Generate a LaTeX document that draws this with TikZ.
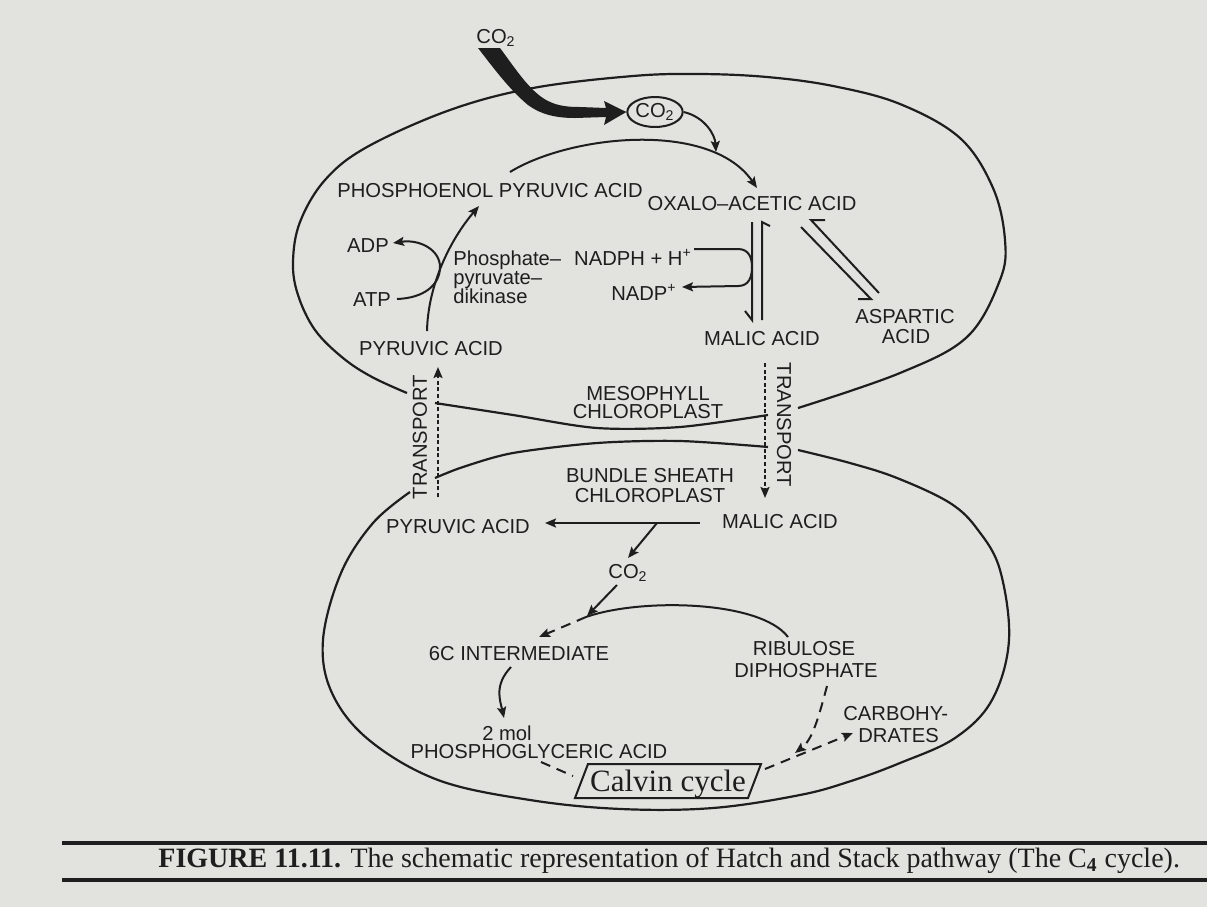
\documentclass[tikz,border=0pt]{standalone}
\usepackage{fontspec}
\setmainfont{Liberation Serif}
\setsansfont{Liberation Sans}
\usetikzlibrary{arrows.meta,shapes.geometric}
\definecolor{paper}{RGB}{226,226,222}
\definecolor{ink}{RGB}{30,30,30}
\begin{document}
\begin{tikzpicture}[x=0.5pt,y=-0.5pt,
  lbl/.style={font=\sffamily\fontsize{10.1}{10}\selectfont, inner sep=0pt, anchor=base, text=ink},
  lbll/.style={lbl, anchor=base west},
  ln/.style={draw=ink, line width=1pt},
  cell/.style={draw=ink, line width=1.1pt},
  arr/.style={ln, -{Stealth[length=5.5pt,width=4.5pt,inset=1pt]}},
  dsh/.style={dash pattern=on 5pt off 3.5pt},
  fdsh/.style={dash pattern=on 2pt off 1.3pt},
]
\fill[paper] (0,0) rectangle (1207,907);
\useasboundingbox (0,0) rectangle (1207,907);

% ---------- cell outlines ----------
\draw[cell] plot[smooth, tension=0.6] coordinates {(407,393) (372,377) (343,358) (315,330) (298,295) (293,262) (300,222) (325,180) (367,147) (450,110) (533,88) (633,76) (700,74) (767,77) (833,86) (900,104) (960,138) (993,188) (1005,240) (1000,280) (967,337) (900,373) (798,408)};
\draw[cell] plot[smooth] coordinates {(435,403) (513,415) (597,428) (680,427) (768,415)};
\draw[cell] plot[smooth] coordinates {(435,478) (463,467) (513,453) (597,443) (680,441) (768,447)};
\draw[cell] plot[smooth, tension=0.6] coordinates {(798,450) (850,463) (897,478) (950,503) (978,530) (1000,570) (1009,640) (992,700) (955,738) (900,763) (851,781) (800,795) (713,808) (621,809) (530,800) (438,780) (369,740) (332,693) (323,640) (341,573) (373,523) (410,492)};

% ---------- incoming CO2 ----------
\node[lbl] (co2a) at (496,43) {CO\textsubscript{2}};
\node[draw=ink, line width=1pt, ellipse, minimum width=27.5pt, minimum height=15pt, inner sep=0pt, font=\sffamily\fontsize{10.1}{10}\selectfont, text=ink] (co2b) at (655,112) {CO\textsubscript{2}};
\fill[ink] (478,48) -- (500,48) .. controls (515,68) and (530,92) .. (548,101) .. controls (558,106) and (568,107) .. (580,107) -- (606,108) -- (604,101) -- (co2b.west) -- (604,125) -- (606,117) -- (575,118) .. controls (555,118) and (540,114) .. (528,105) .. controls (510,90) and (495,70) .. (478,48) -- cycle;

% ---------- mesophyll labels ----------
\node[lbl] (pep) at (490,197) {PHOSPHOENOL PYRUVIC ACID};
\node[lbl] (oaa) at (752,210) {OXALO--ACETIC ACID};
\node[lbl] (adp) at (368,252) {ADP};
\node[lbl] (atp) at (372,306) {ATP};
\node[lbll] (enz1) at (453,265) {Phosphate--};
\node[lbll] (enz2) at (453,284) {pyruvate--};
\node[lbll] (enz3) at (453,303) {dikinase};
\node[lbl] (nadph) at (633,265) {NADPH + H\textsuperscript{+}};
\node[lbl] (nadp) at (644,300) {NADP\textsuperscript{+}};
\node[lbl] (pyr1) at (431,355) {PYRUVIC ACID};
\node[lbl] (mal1) at (762,345) {MALIC ACID};
\node[lbl] (asp1) at (905,323) {ASPARTIC};
\node[lbl] (asp2) at (906,343) {ACID};
\node[lbl] (meso1) at (648,400) {MESOPHYLL};
\node[lbl] (meso2) at (648,418) {CHLOROPLAST};
\node[lbl, anchor=center, rotate=90] (trL) at (420,437) {TRANSPORT};
\node[lbl, anchor=center, rotate=-90] (trR) at (784,425) {TRANSPORT};

% ---------- mesophyll connectors ----------
\coordinate (pepS) at (510,172);
\coordinate (oaaE) at (757,188);
\draw[arr] (pepS) .. controls (570,135) and (710,120) .. (oaaE);
\coordinate (oaaT) at (716,152);
\draw[arr] (co2b.east) .. controls (705,117) and (715,135) .. (oaaT);
\coordinate (pyrT) at (427,331);
\coordinate (pepB) at (479,206);
\draw[arr] (pyrT) .. controls (428,285) and (450,240) .. (pepB);
\coordinate (atpE) at (397,299);
\coordinate (adpE) at (393,243);
\draw[arr] (atpE) .. controls (424,298) and (440,285) .. (440,267) .. controls (440,250) and (420,239) .. (adpE);
\coordinate (nadphE) at (694,249);
\coordinate (nadpE) at (682,287);
\draw[arr] (nadphE) -- (738,249) .. controls (749,249) and (752,258) .. (752,267) .. controls (752,277) and (749,286) .. (738,286) -- (nadpE);
% equilibrium harpoons
\draw[ln] (752,222) -- (752,320) -- (745,311);
\draw[ln] (762,320) -- (762,222) -- (770,226);
\draw[ln] (801,227) -- (871,299) -- (858,299);
\draw[ln] (879,293) -- (811,220) -- (825,220);
% transport
\coordinate (trRs) at (765,363);
\coordinate (trRe) at (765,498);
\draw[arr, fdsh] (trRs) -- (trRe);
\coordinate (trLs) at (438,497);
\coordinate (trLe) at (438,367);
\draw[arr, fdsh] (trLs) -- (trLe);

% ---------- bundle sheath labels ----------
\node[lbl] (bs1) at (650,482) {BUNDLE SHEATH};
\node[lbl] (bs2) at (650,502) {CHLOROPLAST};
\node[lbl] (pyr2) at (458,533) {PYRUVIC ACID};
\node[lbl] (mal2) at (780,528) {MALIC ACID};
\node[lbl] (co2c) at (628,578) {CO\textsubscript{2}};
\node[lbl] (c6) at (519,660) {6C INTERMEDIATE};
\node[lbl] (rub1) at (804,655) {RIBULOSE};
\node[lbl] (rub2) at (806,677) {DIPHOSPHATE};
\node[lbl] (mol) at (507,740) {2 mol};
\node[lbl] (pga) at (539,758) {PHOSPHOGLYCERIC ACID};
\node[lbll] (carb1) at (843,720) {CARBOHY-};
\node[lbll] (carb2) at (858,742) {DRATES};
\draw[ln] (575,798) -- (588,764) -- (761,764) -- (748,798) -- cycle;
\node[font=\fontsize{15.5}{15.5}\selectfont, inner sep=0pt, anchor=base, text=ink] (calvin) at (668,791) {Calvin cycle};

% ---------- bundle sheath connectors ----------
\coordinate (malW) at (700,523);
\coordinate (pyrE) at (545,523);
\draw[arr] (malW) -- (pyrE);
\coordinate (br) at (657,523);
\coordinate (co2cT) at (628,558);
\draw[arr] (br) -- (co2cT);
\coordinate (co2cB) at (617,585);
\coordinate (arcP) at (587,616);
\draw[arr] (co2cB) -- (arcP);
\coordinate (rubT) at (788,637);
\coordinate (arcE) at (586,617);
\draw[ln] (rubT) .. controls (760,600) and (640,598) .. (arcE);
\coordinate (c6T) at (539,637);
\draw[arr, dsh] (arcE) -- (c6T);
\coordinate (c6B) at (511,667);
\coordinate (molT) at (504,718);
\draw[arr] (c6B) .. controls (494,685) and (500,700) .. (molT);
\coordinate (pgaB) at (541,762);
\coordinate (calW) at (573,776);
\draw[ln, dsh] (pgaB) -- (calW);
\coordinate (rubB) at (827,686);
\coordinate (junc) at (795,753);
\draw[arr, dsh] (rubB) .. controls (818,720) and (812,740) .. (junc);
\coordinate (calE) at (765,769);
\coordinate (carbW) at (853,733);
\draw[arr, dsh] (calE) -- (carbW);

% ---------- caption ----------
\draw[ink, line width=1.6pt] (62,843) -- (1207,843);
\draw[ink, line width=1.6pt] (62,880) -- (1207,880);
\node[anchor=base west, inner sep=0pt, font=\fontsize{14}{14}\selectfont, text=ink] (cap) at (158,867) {\textbf{FIGURE 11.11.} The schematic representation of Hatch and Stack pathway (The C\textsubscript{\textbf{4}} cycle).};
\end{tikzpicture}
\end{document}
